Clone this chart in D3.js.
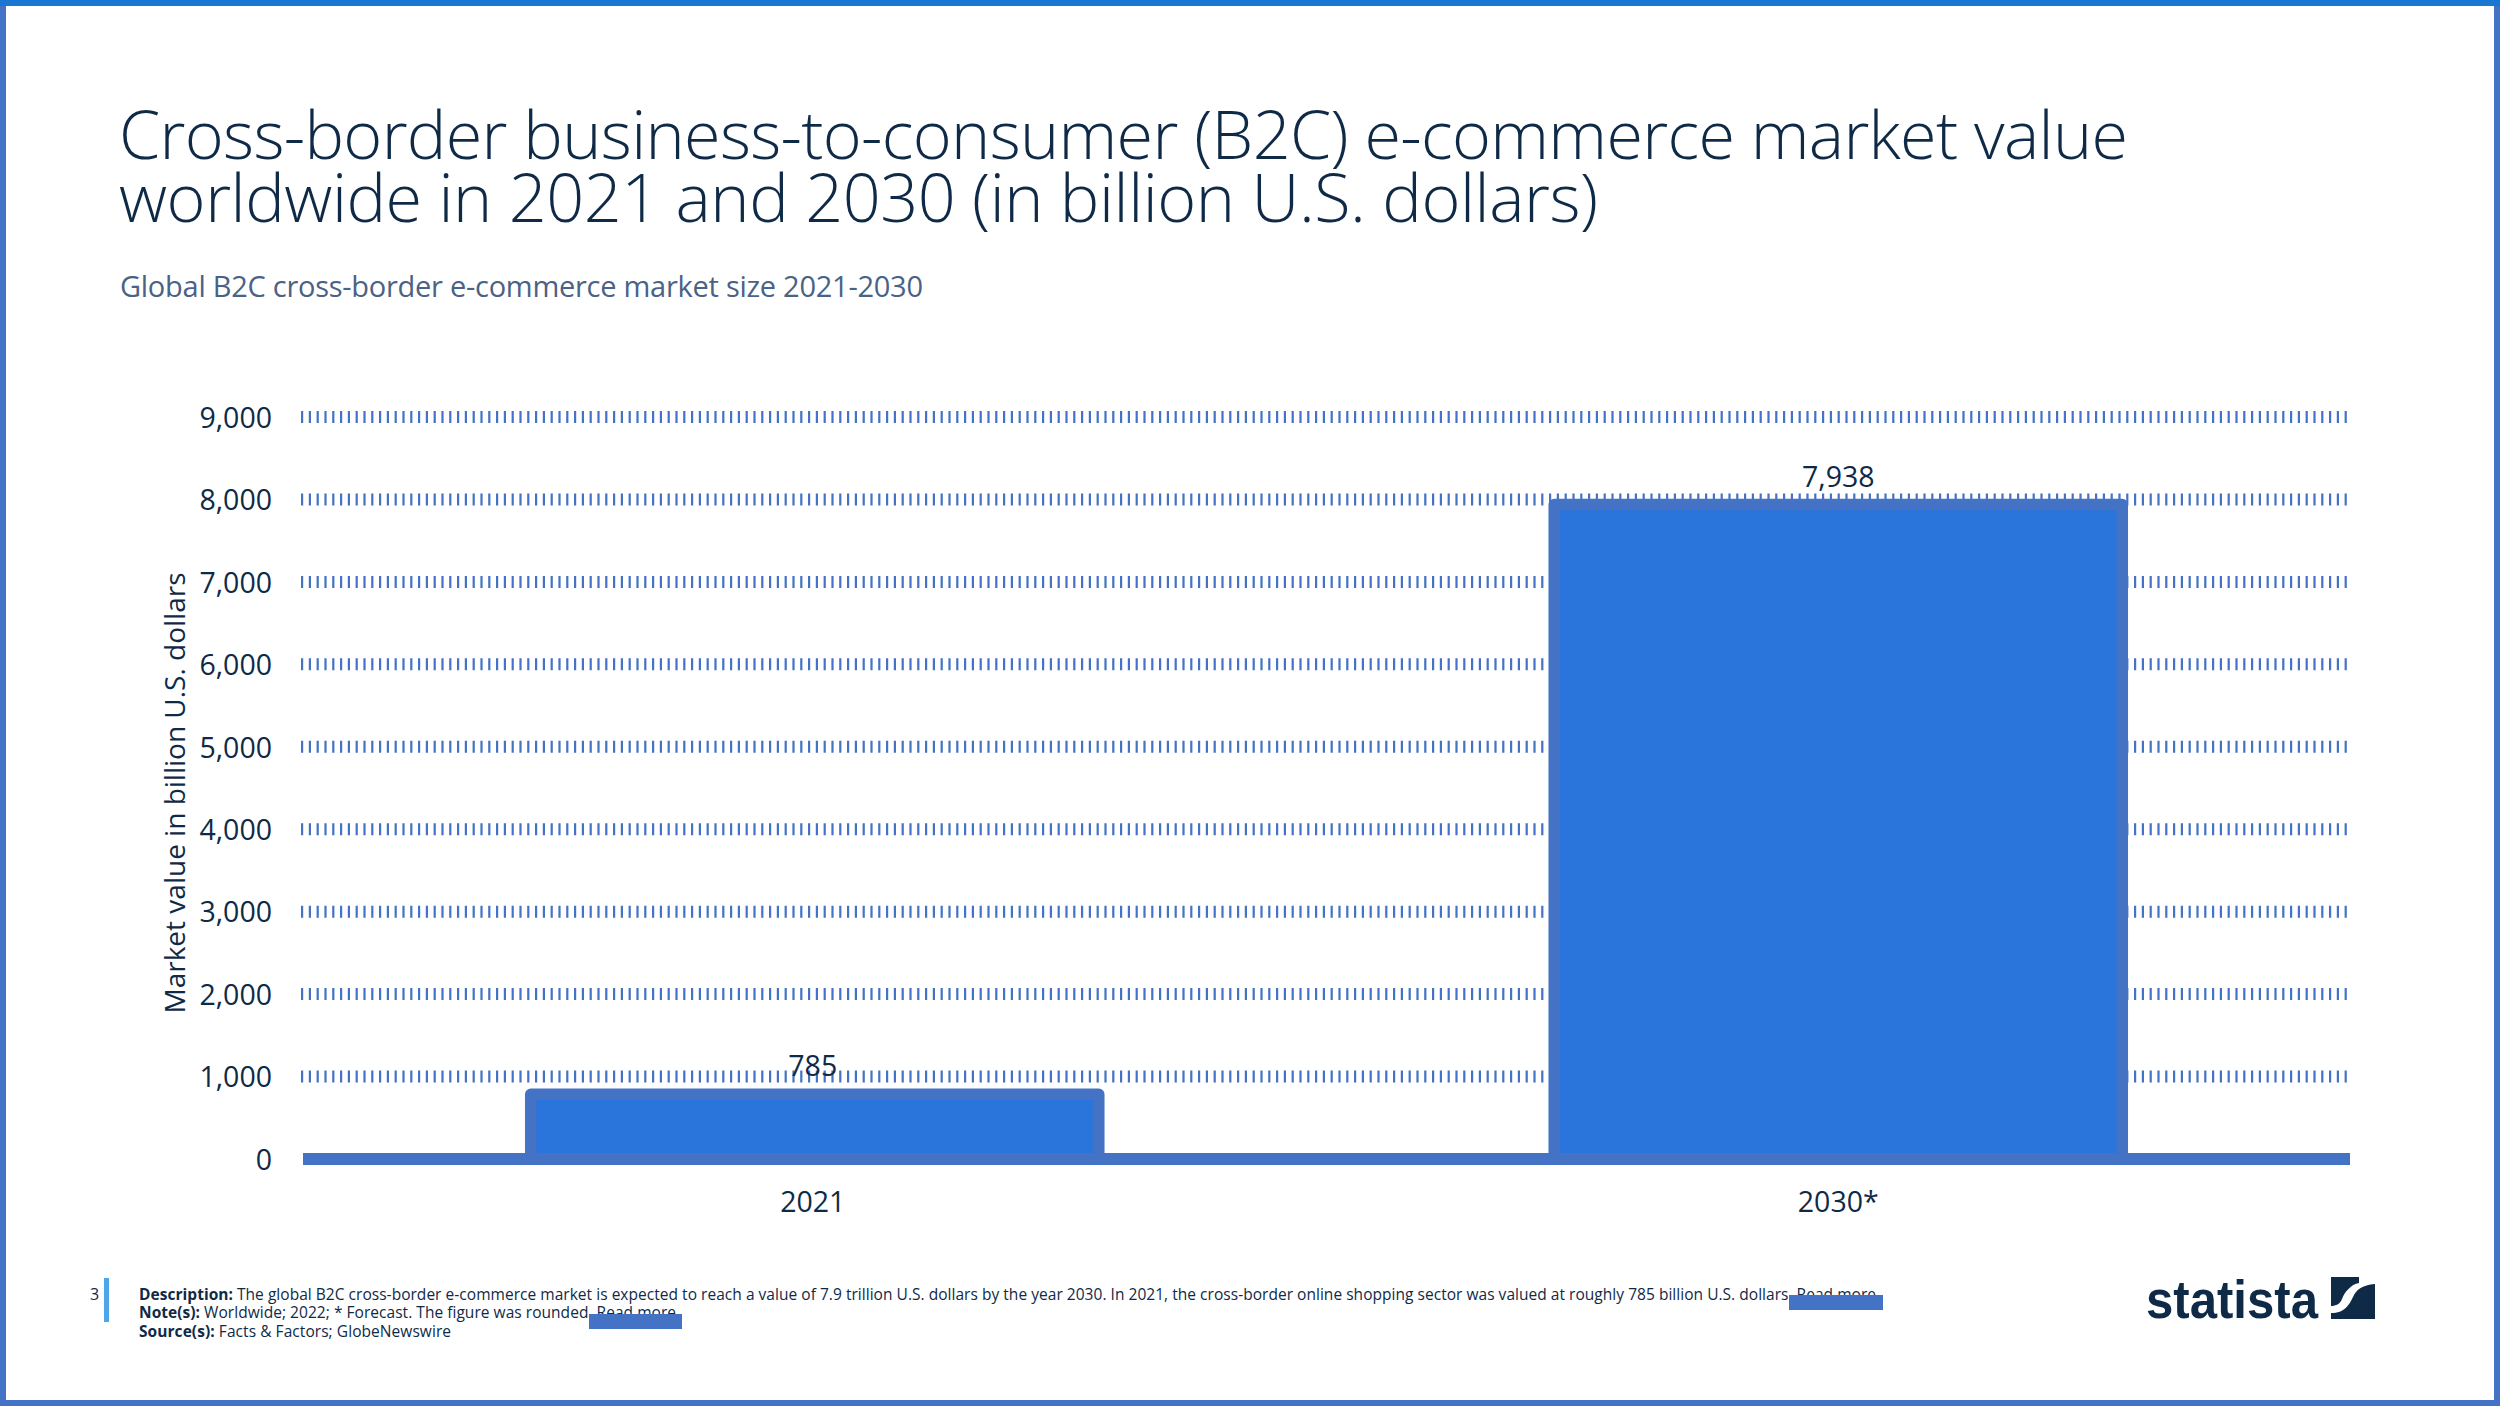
<!DOCTYPE html>
<html>
<head>
<meta charset="utf-8">
<script src="https://cdn.jsdelivr.net/npm/d3@7"></script>
<style>
  html, body { margin: 0; padding: 0; background: #fff; }
  svg { display: block; }
  text { font-family: "Open Sans", sans-serif; fill: #0f2a47; }
</style>
</head>
<body>
<svg id="chart" width="2500" height="1406"></svg>
<script>
const categories = ["2021", "2030*"];
const marketValues = [785, 7938];
const yTicks = [0, 1000, 2000, 3000, 4000, 5000, 6000, 7000, 8000, 9000];
const valueLabels = ["785", "7,938"];
const titleLines = [
  "Cross-border business-to-consumer (B2C) e-commerce market value",
  "worldwide in 2021 and 2030 (in billion U.S. dollars)"
];
const titleWidths = [2009, 1479];
const subtitle = "Global B2C cross-border e-commerce market size 2021-2030";
const yTitle = "Market value in billion U.S. dollars";
const footerLines = [
  ["Description:", " The global B2C cross-border e-commerce market is expected to reach a value of 7.9 trillion U.S. dollars by the year 2030. In 2021, the cross-border online shopping sector was valued at roughly 785 billion U.S. dollars. Read more"],
  ["Note(s):", " Worldwide; 2022; * Forecast. The figure was rounded. Read more"],
  ["Source(s):", " Facts & Factors; GlobeNewswire"]
];
const footerWidths = [1737, 537, 312];

const BLUE = "#4472c4", FILL = "#2a75dc", INK = "#0f2a47";
const svg = d3.select("#chart");

// slide frame
svg.append("rect").attr("x", 3).attr("y", 3).attr("width", 2494).attr("height", 1400)
  .attr("fill", "#fff").attr("stroke", BLUE).attr("stroke-width", 6);
svg.append("rect").attr("width", 2500).attr("height", 6).attr("fill", "#1976d2");

// headings
svg.selectAll(".title").data(titleLines).join("text")
  .attr("class", "title")
  .attr("x", 119)
  .attr("y", (d, i) => 159 + i * 63)
  .attr("font-size", 66.5)
  .attr("font-weight", 300)
  .attr("textLength", (d, i) => titleWidths[i])
  .attr("lengthAdjust", "spacing")
  .text(d => d);
svg.append("text").attr("x", 120).attr("y", 297)
  .attr("font-size", 29).style("fill", "#4a6285")
  .attr("textLength", 803).attr("lengthAdjust", "spacing")
  .text(subtitle);

// scales
const x = d3.scaleBand().domain(categories).range([303, 2350]).paddingInner(0.445).paddingOuter(0.2225);
const y = d3.scaleLinear().domain([0, 9000]).range([1159, 417]);

// dashed grid
svg.append("g").selectAll("line").data(yTicks.slice(1)).join("line")
  .attr("x1", 301).attr("x2", 2351)
  .attr("y1", d => y(d)).attr("y2", d => y(d))
  .attr("stroke", BLUE).attr("stroke-width", 12)
  .attr("stroke-dasharray", "2.2 5.6");

// bars
svg.append("g").selectAll("rect").data(marketValues).join("rect")
  .attr("x", (d, i) => x(categories[i]))
  .attr("width", x.bandwidth())
  .attr("y", d => y(d))
  .attr("height", d => y(0) - y(d))
  .attr("fill", FILL).attr("stroke", BLUE).attr("stroke-width", 11.5)
  .attr("stroke-linejoin", "round");

// baseline
svg.append("line").attr("x1", 303).attr("x2", 2350).attr("y1", y(0)).attr("y2", y(0))
  .attr("stroke", BLUE).attr("stroke-width", 12);

// axes
const yAxis = svg.append("g").attr("transform", "translate(272,0)")
  .call(d3.axisLeft(y).tickValues(yTicks).tickFormat(d3.format(",")).tickSize(0).tickPadding(0));
yAxis.select(".domain").remove();
yAxis.selectAll("text").attr("font-size", 28.5).attr("dy", "0.36em");

const xAxis = svg.append("g").attr("transform", "translate(0,1212)")
  .call(d3.axisBottom(x).tickSize(0).tickPadding(0));
xAxis.select(".domain").remove();
xAxis.selectAll("text").attr("font-size", 28.5).attr("dy", 0)
  .attr("dx", (d, i) => (i ? 0 : -2));

svg.append("text")
  .attr("transform", "translate(185,793) rotate(-90)")
  .attr("text-anchor", "middle").attr("font-size", 28)
  .text(yTitle);

// value labels
svg.append("g").selectAll("text").data(marketValues).join("text")
  .attr("x", (d, i) => x(categories[i]) + x.bandwidth() / 2 - (i ? 0 : 2))
  .attr("y", d => y(d) - 18)
  .attr("text-anchor", "middle").attr("font-size", 28.5)
  .text((d, i) => valueLabels[i]);

// footer
svg.append("text").attr("x", 90).attr("y", 1300).attr("font-size", 16).text("3");
svg.append("rect").attr("x", 104).attr("y", 1278).attr("width", 5).attr("height", 44).attr("fill", "#4ea5e8");
const footer = svg.append("g");
footerLines.forEach((line, i) => {
  const t = footer.append("text").attr("x", 139).attr("y", [1300, 1318, 1337][i]).attr("font-size", 15.5)
    .attr("textLength", footerWidths[i]).attr("lengthAdjust", "spacing");
  t.append("tspan").attr("font-weight", 700).text(line[0]);
  t.append("tspan").text(line[1]);
});
svg.append("rect").attr("x", 589).attr("y", 1314).attr("width", 93).attr("height", 15).attr("fill", BLUE);
svg.append("rect").attr("x", 1789).attr("y", 1295).attr("width", 94).attr("height", 15).attr("fill", BLUE);

// statista logo
svg.append("text").attr("x", 2146).attr("y", 1318)
  .attr("font-size", 54).attr("font-weight", 700)
  .style("font-family", '"Liberation Sans Narrow", sans-serif')
  .attr("textLength", 172).attr("lengthAdjust", "spacingAndGlyphs")
  .text("statista");
const logo = svg.append("g").attr("transform", "translate(2331,1277)");
logo.append("rect").attr("width", 44).attr("height", 42).attr("fill", INK);
logo.append("path")
  .attr("d", "M0 36 C14 36 18 28 22 20 C25 13 31 8 44 7 L44 0 L28 0 L28 6 C20 7 13 16 11 22 C9 27 5 29 0 29 Z")
  .attr("fill", "#fff");
</script>
</body>
</html>
